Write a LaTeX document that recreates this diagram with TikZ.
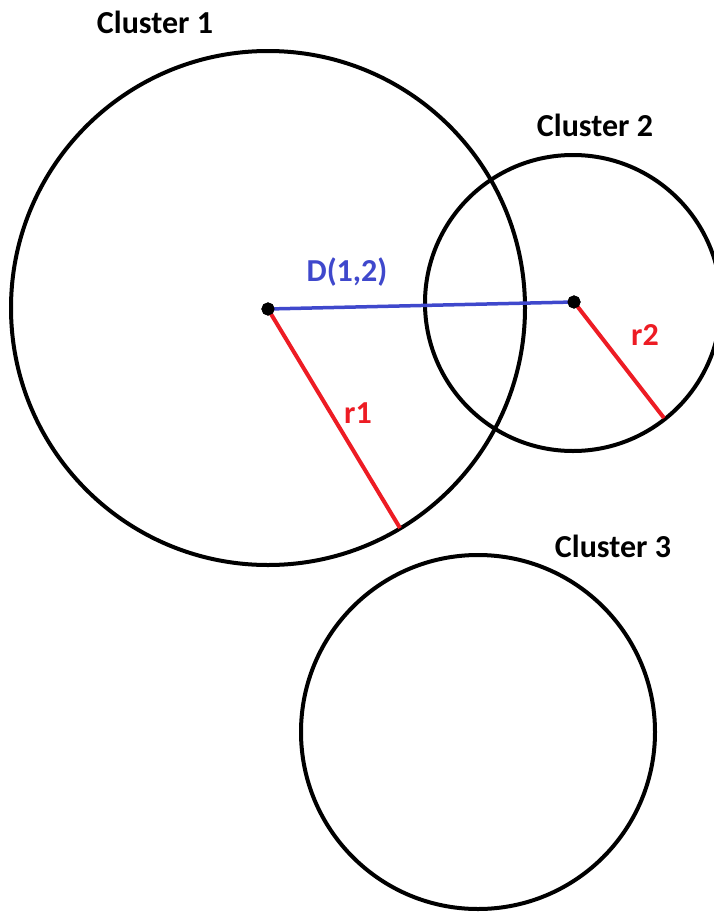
\documentclass[tikz,border=0pt]{standalone}
\usepackage{fontspec}
\setmainfont{Carlito}
\usetikzlibrary{positioning,calc}
\definecolor{paintred}{RGB}{237,28,36}
\definecolor{paintblue}{RGB}{63,72,204}

\begin{document}
\begin{tikzpicture}[x=1pt,y=-1pt,line width=4pt,
  center node/.style={circle,draw,fill=black,line width=2pt,inner sep=0pt,minimum size=11pt},
  label text/.style={font=\fontsize{32}{38}\selectfont\bfseries},
  radius line/.style={paintred,line width=4pt}]
    \useasboundingbox (0,0) rectangle (713,913);
    % clusters
    \draw (268,308) circle[radius=257];
    \draw (573,303) circle[radius=148];
    \draw (478,732) circle[radius=177];
    \node[center node](C1) at (268,309){};
    \node[center node](C2) at (574,302){};
    \coordinate (E1) at ($(C1)+(132,219)$);
    \coordinate (E2) at ($(C2)+(90,116)$);
    % distance and radii
    \draw[paintblue,line width=3.5pt] (C1.center) -- (C2.center);
    \draw[radius line] (C1.center) -- (E1);
    \draw[radius line] (C2.center) -- (E2);
    \node[center node] at (C1){};
    \node[center node] at (C2){};
    % labels
    \node[label text](L1) at (155,22){Cluster 1};
    \node[label text](L2) at (595,125){Cluster 2};
    \node[label text](L3) at (613,546){Cluster 3};
    \node[label text,paintblue](D) at (347,272){D(1,2)};
    \node[label text,paintred](R1) at (358,413){r1};
    \node[label text,paintred](R2) at (645,335){r2};
\end{tikzpicture}
\end{document}
